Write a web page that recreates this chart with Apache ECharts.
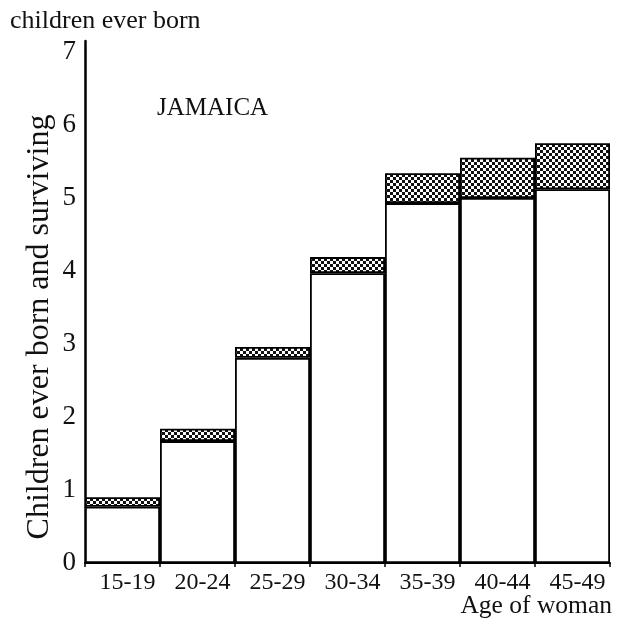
<!DOCTYPE html>
<html>
<head>
<meta charset="utf-8">
<script src="https://cdn.jsdelivr.net/npm/echarts@6/dist/echarts.min.js"></script>
<style>
html,body{margin:0;padding:0;background:#fff;}
#chart{width:619px;height:624px;}
</style>
</head>
<body>
<div id="chart"></div>
<script>
var categories = ['15-19', '20-24', '25-29', '30-34', '35-39', '40-44', '45-49'];
var everBorn = [0.90, 1.84, 2.96, 4.19, 5.34, 5.55, 5.75];
var surviving = [0.77, 1.67, 2.81, 3.97, 4.93, 5.00, 5.12];
var yTicks = [0, 1, 2, 3, 4, 5, 6, 7];

var died = everBorn.map(function (v, i) { return +(v - surviving[i]).toFixed(2); });

var FONT = '"Liberation Serif", "DejaVu Serif", serif';

function makePattern() {
  var c = document.createElement('canvas');
  c.width = 6; c.height = 6;
  var g = c.getContext('2d');
  g.fillStyle = '#ffffff';
  g.fillRect(0, 0, 6, 6);
  g.fillStyle = '#111111';
  g.fillRect(0, 0, 3, 3);
  g.fillRect(3, 3, 3, 3);
  return c;
}

var chart = echarts.init(document.getElementById('chart'), null, { renderer: 'canvas' });
chart.setOption({
  animation: false,
  backgroundColor: '#ffffff',
  grid: { left: 85, right: 9, top: 41, bottom: 61, containLabel: false },
  xAxis: {
    type: 'category',
    data: categories,
    axisLine: { lineStyle: { color: '#000', width: 2 } },
    axisTick: { show: true, length: 4, lineStyle: { color: '#000', width: 1.5 } },
    axisLabel: { color: '#111', fontFamily: FONT, fontSize: 24, margin: 8, padding: [0, 0, 0, 10] }
  },
  yAxis: {
    type: 'value',
    min: 0,
    max: 7.15,
    interval: 1,
    splitLine: { show: false },
    axisLine: { show: true, lineStyle: { color: '#000', width: 2.5 } },
    axisTick: { show: false },
    axisLabel: {
      color: '#111', fontFamily: FONT, fontSize: 27, margin: 9,
      formatter: function (v) { return yTicks.indexOf(v) >= 0 ? String(v) : ''; }
    }
  },
  series: [
    {
      name: 'surviving',
      type: 'bar',
      stack: 'cb',
      barCategoryGap: '0%',
      data: surviving,
      itemStyle: { color: '#ffffff', borderColor: '#000', borderWidth: 1.8 }
    },
    {
      name: 'died',
      type: 'bar',
      stack: 'cb',
      barCategoryGap: '0%',
      data: died,
      itemStyle: { color: { image: makePattern(), repeat: 'repeat' }, borderColor: '#000', borderWidth: 1.8 }
    }
  ],
  graphic: [
    { type: 'text', left: 10, top: 8, style: { text: 'children ever born', font: '26px ' + FONT, fill: '#111' } },
    { type: 'text', left: 157, top: 96, style: { text: 'JAMAICA', font: '25px ' + FONT, fill: '#111' } },
    { type: 'text', right: 7, top: 593, style: { text: 'Age of woman', font: '25.5px ' + FONT, fill: '#111' } },
    {
      type: 'text', x: 40, y: 327, rotation: Math.PI / 2,
      style: { text: 'Children ever born and surviving', font: '32px ' + FONT, fill: '#111', align: 'center', verticalAlign: 'middle' }
    }
  ]
});
</script>
</body>
</html>
